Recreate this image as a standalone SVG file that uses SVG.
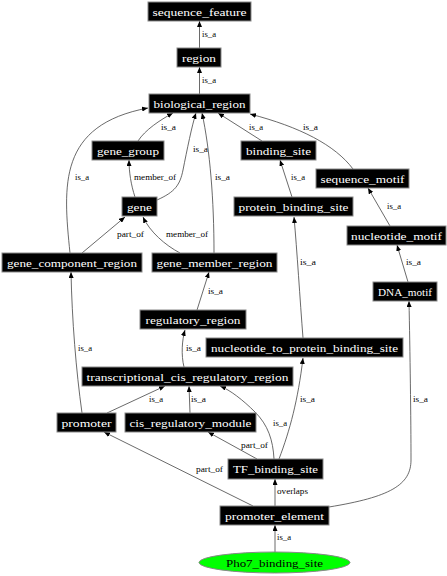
<svg xmlns="http://www.w3.org/2000/svg" width="447" height="576" viewBox="0 0 447 576">
<style>
.n rect{fill:#000;stroke:#888;stroke-width:1}
.n text{fill:#fff;font-family:"Liberation Serif","Times New Roman",serif;font-size:11px;text-anchor:middle}
.e path{fill:none;stroke:#444;stroke-width:0.8;marker-end:url(#ah)}
.l text{fill:#000;font-family:"Liberation Serif","Times New Roman",serif;font-size:7.5px}
</style>
<defs>
<marker id="ah" markerUnits="userSpaceOnUse" markerWidth="6" markerHeight="5" refX="6" refY="2.5" orient="auto">
<path d="M0,0 L6,2.5 L0,5 z" fill="#000"/>
</marker>
</defs>
<rect width="447" height="576" fill="#fff"/>
<g id="connectors">
<g class="e">
<path d="M199.5,48 L199.5,21"/>
<path d="M199.5,94 L199.5,67"/>
<path d="M138,141 C145,130 160,120 173,113"/>
<path d="M70,253 C63,185 58,125 148,108"/>
<path d="M157,200 C175,192 180,185 183,170 C187,150 192,125 196,113"/>
<path d="M214,253 C214,200 210,150 202,113"/>
<path d="M262,141 L218,113"/>
<path d="M353,169 C335,145 300,127 250,114"/>
<path d="M135,197 C131,185 129,172 129,160"/>
<path d="M292,197 L280,160"/>
<path d="M390,226 L368,188"/>
<path d="M82,253 L125,217"/>
<path d="M180,253 C165,245 150,232 143,217"/>
<path d="M303,338 C300,300 297,250 294,217"/>
<path d="M408,282 L397,245"/>
<path d="M197,310 L209,272"/>
<path d="M82,413 C76,370 72,320 71,272"/>
<path d="M184,367 C181,355 182,340 185,330"/>
<path d="M279,459 C290,430 298,400 303,358"/>
<path d="M329,507 C390,497 411,485 411,460 C411,420 410,350 409,301"/>
<path d="M107,413 L165,386"/>
<path d="M190,413 L189,386"/>
<path d="M274,459 C273,440 268,425 255,412 C243,400 230,390 220,386"/>
<path d="M257,459 L208,432"/>
<path d="M253,506 L104,432"/>
<path d="M275,506 L275,479"/>
<path d="M275,552 L275,525"/>
</g>
<g class="l">
<text x="202" y="36.5" textLength="14" lengthAdjust="spacingAndGlyphs">is_a</text>
<text x="202" y="82.5" textLength="14" lengthAdjust="spacingAndGlyphs">is_a</text>
<text x="161" y="129.5" textLength="15" lengthAdjust="spacingAndGlyphs">is_a</text>
<text x="249" y="129.5" textLength="14" lengthAdjust="spacingAndGlyphs">is_a</text>
<text x="303" y="129.5" textLength="15" lengthAdjust="spacingAndGlyphs">is_a</text>
<text x="193" y="151.5" textLength="15" lengthAdjust="spacingAndGlyphs">is_a</text>
<text x="75" y="179.5" textLength="14" lengthAdjust="spacingAndGlyphs">is_a</text>
<text x="134" y="179.5" textLength="42" lengthAdjust="spacingAndGlyphs">member_of</text>
<text x="215" y="179.5" textLength="15" lengthAdjust="spacingAndGlyphs">is_a</text>
<text x="291" y="179.5" textLength="14" lengthAdjust="spacingAndGlyphs">is_a</text>
<text x="387" y="209" textLength="14" lengthAdjust="spacingAndGlyphs">is_a</text>
<text x="117" y="236.5" textLength="27" lengthAdjust="spacingAndGlyphs">part_of</text>
<text x="166" y="236.5" textLength="42" lengthAdjust="spacingAndGlyphs">member_of</text>
<text x="300" y="265" textLength="16" lengthAdjust="spacingAndGlyphs">is_a</text>
<text x="406" y="265" textLength="15" lengthAdjust="spacingAndGlyphs">is_a</text>
<text x="208" y="294" textLength="15" lengthAdjust="spacingAndGlyphs">is_a</text>
<text x="78" y="350.5" textLength="14" lengthAdjust="spacingAndGlyphs">is_a</text>
<text x="186" y="350.5" textLength="15" lengthAdjust="spacingAndGlyphs">is_a</text>
<text x="149" y="401.5" textLength="14" lengthAdjust="spacingAndGlyphs">is_a</text>
<text x="191" y="401.5" textLength="15" lengthAdjust="spacingAndGlyphs">is_a</text>
<text x="300" y="401.5" textLength="15" lengthAdjust="spacingAndGlyphs">is_a</text>
<text x="413" y="401.5" textLength="15" lengthAdjust="spacingAndGlyphs">is_a</text>
<text x="273" y="425.5" textLength="14" lengthAdjust="spacingAndGlyphs">is_a</text>
<text x="241" y="447.5" textLength="27" lengthAdjust="spacingAndGlyphs">part_of</text>
<text x="196" y="471.5" textLength="27" lengthAdjust="spacingAndGlyphs">part_of</text>
<text x="277" y="493.5" textLength="31" lengthAdjust="spacingAndGlyphs">overlaps</text>
<text x="277" y="539.5" textLength="14" lengthAdjust="spacingAndGlyphs">is_a</text>
</g>
</g>
<g id="sequence_feature" class="n"><rect x="148" y="2" width="103" height="19"/><text x="199.5" y="15.5" textLength="94" lengthAdjust="spacingAndGlyphs">sequence_feature</text></g>
<g id="region" class="n"><rect x="177" y="48" width="44" height="19"/><text x="199" y="61.5" textLength="34" lengthAdjust="spacingAndGlyphs">region</text></g>
<g id="biological_region" class="n"><rect x="149" y="94" width="101" height="19"/><text x="199.5" y="107.5" textLength="92" lengthAdjust="spacingAndGlyphs">biological_region</text></g>
<g id="gene_group" class="n"><rect x="92" y="141" width="72" height="19"/><text x="128" y="154.5" textLength="62" lengthAdjust="spacingAndGlyphs">gene_group</text></g>
<g id="binding_site" class="n"><rect x="241" y="141" width="75" height="19"/><text x="278.5" y="154.5" textLength="65" lengthAdjust="spacingAndGlyphs">binding_site</text></g>
<g id="sequence_motif" class="n"><rect x="316" y="169" width="93" height="19"/><text x="362.5" y="182.5" textLength="84" lengthAdjust="spacingAndGlyphs">sequence_motif</text></g>
<g id="gene" class="n"><rect x="122" y="197" width="35" height="19"/><text x="139.5" y="210.5" textLength="25" lengthAdjust="spacingAndGlyphs">gene</text></g>
<g id="protein_binding_site" class="n"><rect x="234" y="197" width="119" height="19"/><text x="293.5" y="210.5" textLength="110" lengthAdjust="spacingAndGlyphs">protein_binding_site</text></g>
<g id="nucleotide_motif" class="n"><rect x="347" y="226" width="99" height="19"/><text x="396.5" y="239.5" textLength="91" lengthAdjust="spacingAndGlyphs">nucleotide_motif</text></g>
<g id="gene_component_region" class="n"><rect x="2" y="253" width="140" height="19"/><text x="72" y="266.5" textLength="130" lengthAdjust="spacingAndGlyphs">gene_component_region</text></g>
<g id="gene_member_region" class="n"><rect x="152" y="253" width="125" height="19"/><text x="214.5" y="266.5" textLength="116" lengthAdjust="spacingAndGlyphs">gene_member_region</text></g>
<g id="DNA_motif" class="n"><rect x="373" y="282" width="64" height="19"/><text x="405" y="295.5" textLength="54" lengthAdjust="spacingAndGlyphs">DNA_motif</text></g>
<g id="regulatory_region" class="n"><rect x="140" y="310" width="106" height="19"/><text x="193" y="323.5" textLength="95" lengthAdjust="spacingAndGlyphs">regulatory_region</text></g>
<g id="nucleotide_to_protein_binding_site" class="n"><rect x="206" y="338" width="197" height="19"/><text x="304.5" y="351.5" textLength="187" lengthAdjust="spacingAndGlyphs">nucleotide_to_protein_binding_site</text></g>
<g id="transcriptional_cis_regulatory_region" class="n"><rect x="82" y="367" width="211" height="19"/><text x="187.5" y="380.5" textLength="202" lengthAdjust="spacingAndGlyphs">transcriptional_cis_regulatory_region</text></g>
<g id="promoter" class="n"><rect x="57" y="413" width="59" height="19"/><text x="86.5" y="426.5" textLength="50" lengthAdjust="spacingAndGlyphs">promoter</text></g>
<g id="cis_regulatory_module" class="n"><rect x="125" y="413" width="131" height="19"/><text x="190.5" y="426.5" textLength="122" lengthAdjust="spacingAndGlyphs">cis_regulatory_module</text></g>
<g id="TF_binding_site" class="n"><rect x="228" y="459" width="95" height="20"/><text x="275.5" y="473" textLength="85" lengthAdjust="spacingAndGlyphs">TF_binding_site</text></g>
<g id="promoter_element" class="n"><rect x="220" y="506" width="109" height="19"/><text x="274.5" y="519.5" textLength="99" lengthAdjust="spacingAndGlyphs">promoter_element</text></g>
<g id="Pho7_binding_site"><ellipse cx="274.5" cy="562.5" rx="75.5" ry="10.5" fill="#00ff00" stroke="#888" stroke-width="1"/><text x="274.5" y="566.5" text-anchor="middle" font-family="Liberation Serif, Times New Roman, serif" font-size="11" fill="#000" textLength="97" lengthAdjust="spacingAndGlyphs">Pho7_binding_site</text></g>
</svg>
